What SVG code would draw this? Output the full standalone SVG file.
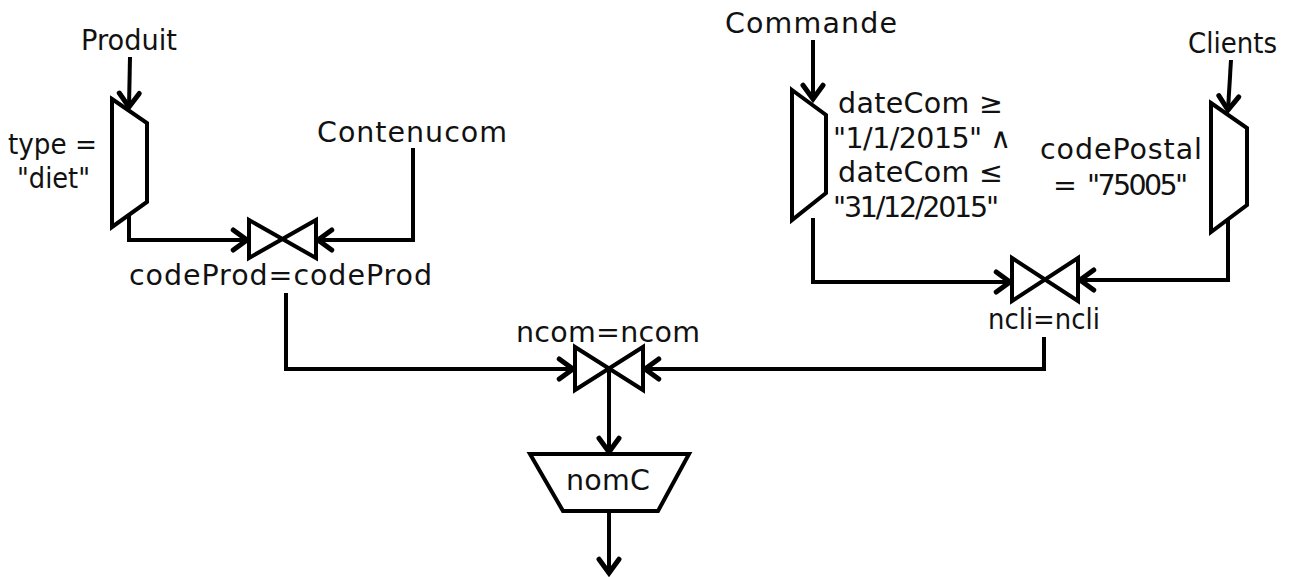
<svg xmlns="http://www.w3.org/2000/svg" width="1289" height="577" viewBox="0 0 1289 577">
<style>
  .shape { fill: #fff; stroke: #000; stroke-width: 4; stroke-linejoin: miter; }
  .conn { fill: none; stroke: #000; stroke-width: 4; }
  text { font-family: "DejaVu Sans", "Liberation Sans", sans-serif; font-size: 28.5px; fill: #111; }
  .pre { white-space: pre; }
</style>
<defs>
  <marker id="arr" markerUnits="userSpaceOnUse" markerWidth="30" markerHeight="30" viewBox="-16 -12 20 24" refX="0" refY="0" orient="auto" overflow="visible">
    <path d="M-11,-8 L0,0 L-11,8" fill="none" stroke="#000" stroke-width="4" stroke-linecap="round" stroke-linejoin="miter"/>
  </marker>
</defs>
<rect width="1289" height="577" fill="#fff"/>

<g id="connectors">
  <path class="conn" d="M130,57 L129,107" marker-end="url(#arr)"/>
  <path class="conn" d="M129,215 V240 H247" marker-end="url(#arr)"/>
  <path class="conn" d="M413,148 V240 H318" marker-end="url(#arr)"/>
  <path class="conn" d="M286,293 V369 H573" marker-end="url(#arr)"/>
  <path class="conn" d="M813,40 V99" marker-end="url(#arr)"/>
  <path class="conn" d="M813,218 V282 H1010" marker-end="url(#arr)"/>
  <path class="conn" d="M1231,60 L1228,110" marker-end="url(#arr)"/>
  <path class="conn" d="M1228,220 V280 H1080" marker-end="url(#arr)"/>
  <path class="conn" d="M1044,337 V369 H645" marker-end="url(#arr)"/>
  <path class="conn" d="M609,369 V452" marker-end="url(#arr)"/>
  <path class="conn" d="M609,511 V573" marker-end="url(#arr)"/>
</g>

<g id="produit">
  <text x="81" y="50" textLength="96" lengthAdjust="spacingAndGlyphs">Produit</text>
</g>
<g id="sel-type">
  <polygon class="shape" points="112,99 147,123 147,202 112,227"/>
  <text x="8" y="154" textLength="89" lengthAdjust="spacingAndGlyphs">type =</text>
  <text x="17" y="188" textLength="73" lengthAdjust="spacingAndGlyphs">"diet"</text>
</g>
<g id="contenucom">
  <text x="317" y="142" textLength="190" lengthAdjust="spacing">Contenucom</text>
</g>
<g id="join-codeprod">
  <polygon class="shape" points="249,220 316,258 316,220 249,258"/>
  <text x="129" y="285" textLength="303" lengthAdjust="spacing">codeProd=codeProd</text>
</g>
<g id="commande">
  <text x="725" y="33" textLength="172" lengthAdjust="spacing">Commande</text>
</g>
<g id="sel-date">
  <polygon class="shape" points="792,90 826,115 826,193 792,220"/>
  <text x="838" y="113" textLength="165" lengthAdjust="spacing">dateCom ≥</text>
  <text x="833" y="148" textLength="178" lengthAdjust="spacing">"1/1/2015" ∧</text>
  <text x="838" y="182" textLength="165" lengthAdjust="spacing">dateCom ≤</text>
  <text x="833" y="217" textLength="166" lengthAdjust="spacing">"31/12/2015"</text>
</g>
<g id="clients">
  <text x="1188" y="53" textLength="89" lengthAdjust="spacingAndGlyphs">Clients</text>
</g>
<g id="sel-postal">
  <polygon class="shape" points="1211,103 1247,128 1247,205 1211,232"/>
  <text x="1040" y="159" textLength="162" lengthAdjust="spacing">codePostal</text>
  <text class="pre" x="1053" y="195" textLength="135" lengthAdjust="spacing" xml:space="preserve">=  "75005"</text>
</g>
<g id="join-ncli">
  <polygon class="shape" points="1012,258 1078,301 1078,258 1012,301"/>
  <text x="988" y="329" textLength="112" lengthAdjust="spacingAndGlyphs">ncli=ncli</text>
</g>
<g id="join-ncom">
  <polygon class="shape" points="575,347 643,390 643,347 575,390"/>
  <text x="516" y="342" textLength="184" lengthAdjust="spacing">ncom=ncom</text>
</g>
<g id="proj-nomc">
  <polygon class="shape" points="530,454 689,454 658,511 563,511"/>
  <text x="566" y="490" textLength="84" lengthAdjust="spacing">nomC</text>
</g>
</svg>
